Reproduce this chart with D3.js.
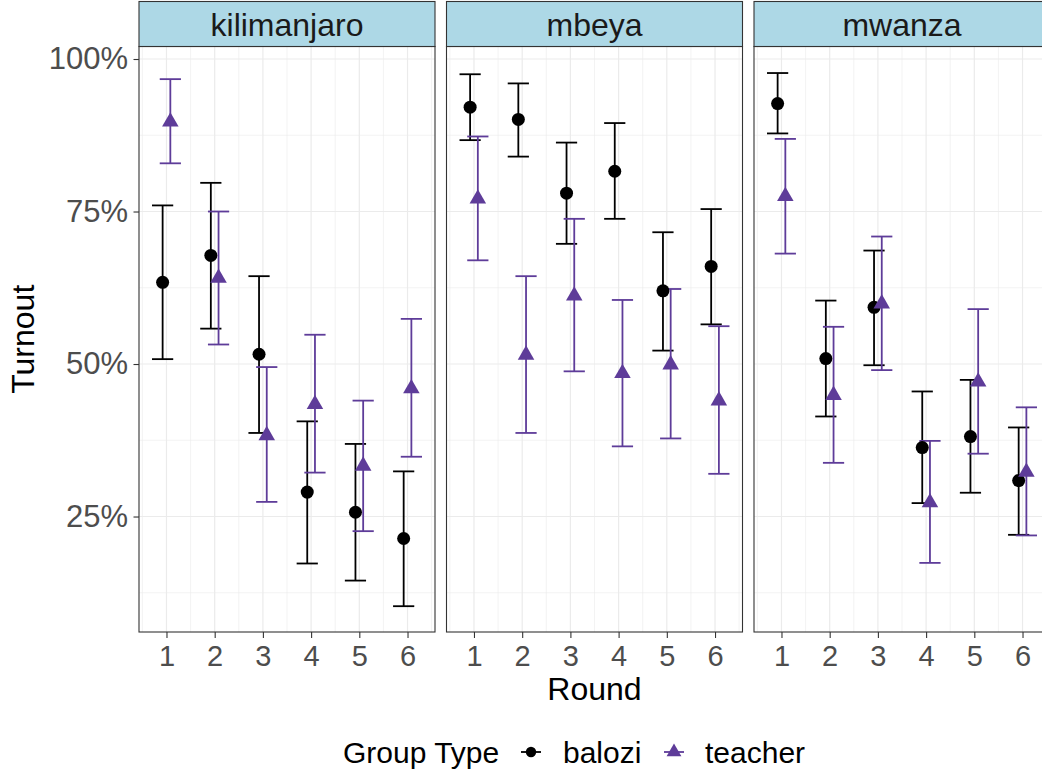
<!DOCTYPE html>
<html>
<head>
<meta charset="utf-8">
<script src="https://cdn.jsdelivr.net/npm/d3@7"></script>
<style>
  body { margin: 0; background: #fff; }
  svg { font-family: "Liberation Sans", Arial, Helvetica, sans-serif; }
</style>
</head>
<body>
<svg id="chart" width="1042" height="772"></svg>
<script>
// facets, rounds and groups
const regions = ["kilimanjaro", "mbeya", "mwanza"];
const rounds = [1, 2, 3, 4, 5, 6];
const groups = ["balozi", "teacher"];
const yTicks = [25, 50, 75, 100];

// turnout (%) per region (rows) and round (columns)
const baloziMean = [
  [63.4, 67.8, 51.6, 29.0, 25.7, 21.4],
  [92.1, 90.1, 78.0, 81.6, 62.0, 66.0],
  [92.7, 50.9, 59.3, 36.3, 38.1, 30.9]
];
const baloziLow = [
  [50.8, 55.8, 38.7, 17.3, 14.5, 10.3],
  [86.7, 84.0, 69.7, 73.8, 52.2, 56.5],
  [87.8, 41.4, 49.8, 27.2, 28.9, 22.0]
];
const baloziHigh = [
  [76.0, 79.7, 64.4, 40.6, 36.9, 32.4],
  [97.5, 96.0, 86.3, 89.5, 71.6, 75.4],
  [97.7, 60.4, 68.6, 45.5, 47.4, 39.6]
];
const teacherMean = [
  [89.7, 64.1, 38.3, 43.4, 33.3, 46.0],
  [77.1, 51.5, 61.2, 48.5, 49.9, 44.0],
  [77.5, 44.9, 59.9, 27.3, 47.1, 32.3]
];
const teacherLow = [
  [82.9, 53.2, 27.4, 32.2, 22.6, 34.8],
  [67.0, 38.7, 48.8, 36.5, 37.8, 32.0],
  [68.1, 33.8, 49.0, 17.4, 35.3, 21.9]
];
const teacherHigh = [
  [96.7, 75.0, 49.5, 54.8, 44.0, 57.4],
  [87.3, 64.4, 73.8, 60.5, 62.3, 56.2],
  [86.9, 56.1, 70.9, 37.4, 59.0, 42.9]
];

const colors = {balozi: "#000000", teacher: "#5e3c99"};
const shapes = {balozi: d3.symbolCircle, teacher: d3.symbolTriangle};
const dodge = {balozi: -0.08, teacher: 0.08};

// layout
const panelW = 296, panelGap = 11.5;
const panelLeft = 139;
const stripTop = 1.5, panelTop = 46.5, panelBottom = 632;

const svg = d3.select("#chart");

// build long table
let rows = [];
regions.forEach((r, ri) => {
  rounds.forEach((rd, k) => {
    rows.push({region: r, round: rd, group: "balozi",
      mean: baloziMean[ri][k], lo: baloziLow[ri][k], hi: baloziHigh[ri][k]});
    rows.push({region: r, round: rd, group: "teacher",
      mean: teacherMean[ri][k], lo: teacherLow[ri][k], hi: teacherHigh[ri][k]});
  });
});

const y = d3.scaleLinear().domain([6.07, 102.05]).range([panelBottom, panelTop]);
const x = d3.scaleLinear().domain([0.43, 6.57]).range([0, panelW]);

const yMinor = [12.5, 37.5, 62.5, 87.5];
const xMinor = d3.range(0.5, 7, 1);

regions.forEach((region, i) => {
  const left = panelLeft + i * (panelW + panelGap);
  const g = svg.append("g").attr("transform", `translate(${left},0)`);

  // panel background + grid
  g.append("rect")
    .attr("x", 0).attr("y", panelTop)
    .attr("width", panelW).attr("height", panelBottom - panelTop)
    .attr("fill", "#fff");

  g.selectAll(".ymin").data(yMinor).enter().append("line")
    .attr("x1", 0).attr("x2", panelW)
    .attr("y1", d => y(d)).attr("y2", d => y(d))
    .attr("stroke", "#ebebeb").attr("stroke-width", 0.6);
  g.selectAll(".xmin").data(xMinor).enter().append("line")
    .attr("y1", panelTop).attr("y2", panelBottom)
    .attr("x1", d => x(d)).attr("x2", d => x(d))
    .attr("stroke", "#ebebeb").attr("stroke-width", 0.6);
  g.selectAll(".ymaj").data(yTicks).enter().append("line")
    .attr("x1", 0).attr("x2", panelW)
    .attr("y1", d => y(d)).attr("y2", d => y(d))
    .attr("stroke", "#ebebeb").attr("stroke-width", 1.2);
  g.selectAll(".xmaj").data(rounds).enter().append("line")
    .attr("y1", panelTop).attr("y2", panelBottom)
    .attr("x1", d => x(d)).attr("x2", d => x(d))
    .attr("stroke", "#ebebeb").attr("stroke-width", 1.2);

  // data
  const data = rows.filter(d => d.region === region);
  const capHalf = x(0.22) - x(0);

  const eb = g.selectAll(".eb").data(data).enter().append("g")
    .attr("stroke", d => colors[d.group])
    .attr("stroke-width", 1.8)
    .attr("fill", "none");
  eb.append("line")
    .attr("x1", d => x(d.round + dodge[d.group]))
    .attr("x2", d => x(d.round + dodge[d.group]))
    .attr("y1", d => y(d.lo)).attr("y2", d => y(d.hi));
  eb.append("line")
    .attr("x1", d => x(d.round + dodge[d.group]) - capHalf)
    .attr("x2", d => x(d.round + dodge[d.group]) + capHalf)
    .attr("y1", d => y(d.hi)).attr("y2", d => y(d.hi));
  eb.append("line")
    .attr("x1", d => x(d.round + dodge[d.group]) - capHalf)
    .attr("x2", d => x(d.round + dodge[d.group]) + capHalf)
    .attr("y1", d => y(d.lo)).attr("y2", d => y(d.lo));

  g.selectAll(".pt").data(data).enter().append("path")
    .attr("d", d => d3.symbol(shapes[d.group], d.group === "balozi" ? 133 : 118)())
    .attr("transform", d => `translate(${x(d.round + dodge[d.group])},${y(d.mean)})`)
    .attr("fill", d => colors[d.group]);

  // panel border
  g.append("rect")
    .attr("x", 0).attr("y", panelTop)
    .attr("width", panelW).attr("height", panelBottom - panelTop)
    .attr("fill", "none").attr("stroke", "#333").attr("stroke-width", 1.1);

  // strip
  g.append("rect")
    .attr("x", 0).attr("y", stripTop)
    .attr("width", panelW).attr("height", panelTop - stripTop)
    .attr("fill", "#add8e6").attr("stroke", "#333").attr("stroke-width", 1.1);
  g.append("text")
    .attr("x", panelW / 2).attr("y", 35.5)
    .attr("text-anchor", "middle")
    .attr("font-size", 32).attr("fill", "#1a1a1a")
    .text(region);

  // x axis
  const xAxis = g.append("g")
    .attr("transform", `translate(0,${panelBottom})`)
    .call(d3.axisBottom(x).tickValues(rounds).tickSize(6).tickPadding(7).tickFormat(d3.format("d")));
  xAxis.select(".domain").remove();
  xAxis.selectAll(".tick line").attr("stroke", "#333").attr("stroke-width", 1.1);
  xAxis.selectAll(".tick text").attr("font-size", 29).attr("fill", "#4d4d4d")
    .attr("font-family", "Liberation Sans, Arial, sans-serif");

  // y axis only on first panel
  if (i === 0) {
    const yAxis = g.append("g")
      .call(d3.axisLeft(y).tickValues(yTicks).tickSize(5.5).tickPadding(5.5).tickFormat(d => d + "%"));
    yAxis.select(".domain").remove();
    yAxis.selectAll(".tick line").attr("stroke", "#333").attr("stroke-width", 1.1);
    yAxis.selectAll(".tick text").attr("font-size", 31).attr("fill", "#4d4d4d")
      .attr("font-family", "Liberation Sans, Arial, sans-serif");
  }
});

// axis titles
const plotCenter = panelLeft + (3 * panelW + 2 * panelGap) / 2;
svg.append("text")
  .attr("x", plotCenter).attr("y", 700)
  .attr("text-anchor", "middle").attr("font-size", 32).attr("fill", "#000")
  .text("Round");
svg.append("text")
  .attr("transform", `translate(34,${(panelTop + panelBottom) / 2}) rotate(-90)`)
  .attr("text-anchor", "middle").attr("font-size", 32).attr("fill", "#000")
  .text("Turnout");

// legend
const legY = 752, legBase = 763;
const leg = svg.append("g");
leg.append("text").attr("x", 343).attr("y", legBase)
  .attr("font-size", 30).attr("fill", "#000").text("Group Type");

const legendItems = [
  {group: "balozi", keyX: 531, textX: 563},
  {group: "teacher", keyX: 674, textX: 705}
];
legendItems.forEach(it => {
  leg.append("line")
    .attr("x1", it.keyX - 10).attr("x2", it.keyX + 10)
    .attr("y1", legY).attr("y2", legY)
    .attr("stroke", colors[it.group]).attr("stroke-width", 1.8);
  leg.append("path")
    .attr("d", d3.symbol(shapes[it.group], it.group === "balozi" ? 85 : 95)())
    .attr("transform", `translate(${it.keyX},${legY})`)
    .attr("fill", colors[it.group]);
  leg.append("text").attr("x", it.textX).attr("y", legBase)
    .attr("font-size", 30).attr("fill", "#000").text(it.group);
});
</script>
</body>
</html>
